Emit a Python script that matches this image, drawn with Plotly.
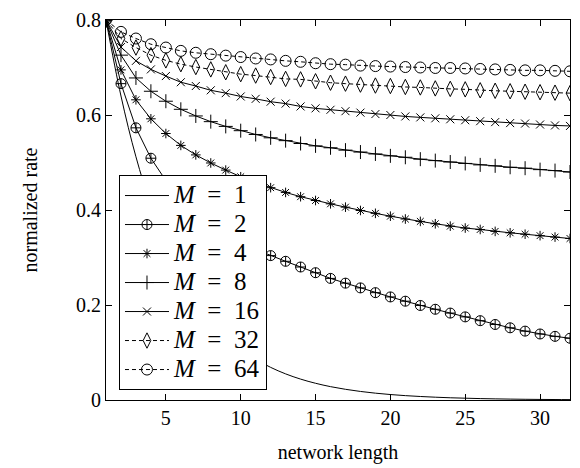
import plotly.graph_objects as go

n = list(range(1, 33))

rate_m1 = [0.8, 0.64, 0.512, 0.4096, 0.3277, 0.2621, 0.2097, 0.1678, 0.1342, 0.1074,
           0.0859, 0.0687, 0.0550, 0.0440, 0.0352, 0.0281, 0.0225, 0.0180, 0.0144, 0.0115,
           0.0092, 0.0074, 0.0059, 0.0047, 0.0038, 0.0030, 0.0024, 0.0019, 0.0015, 0.0012,
           0.0010, 0.0008]
rate_m2 = [0.8, 0.666, 0.573, 0.509, 0.462, 0.424, 0.394, 0.369, 0.349, 0.331,
           0.317, 0.304, 0.292, 0.280, 0.268, 0.256, 0.246, 0.236, 0.226, 0.217,
           0.208, 0.199, 0.191, 0.183, 0.175, 0.167, 0.159, 0.152, 0.145, 0.139,
           0.134, 0.130]
rate_m4 = [0.8, 0.695, 0.632, 0.592, 0.561, 0.536, 0.516, 0.499, 0.484, 0.470,
           0.458, 0.447, 0.437, 0.428, 0.420, 0.413, 0.406, 0.399, 0.393, 0.387,
           0.381, 0.376, 0.371, 0.366, 0.362, 0.359, 0.355, 0.352, 0.349, 0.346,
           0.343, 0.340]
rate_m8 = [0.8, 0.726, 0.678, 0.650, 0.629, 0.612, 0.598, 0.586, 0.576, 0.567,
           0.559, 0.552, 0.546, 0.540, 0.535, 0.531, 0.526, 0.522, 0.518, 0.514,
           0.511, 0.507, 0.504, 0.501, 0.498, 0.495, 0.493, 0.490, 0.488, 0.485,
           0.483, 0.480]
rate_m16 = [0.8, 0.743, 0.714, 0.696, 0.682, 0.669, 0.661, 0.652, 0.646, 0.639,
            0.634, 0.628, 0.624, 0.618, 0.614, 0.611, 0.608, 0.605, 0.602, 0.600,
            0.597, 0.595, 0.593, 0.591, 0.589, 0.587, 0.585, 0.583, 0.582, 0.580,
            0.578, 0.577]
rate_m32 = [0.8, 0.761, 0.742, 0.726, 0.715, 0.707, 0.701, 0.696, 0.690, 0.686,
            0.683, 0.680, 0.676, 0.675, 0.671, 0.668, 0.666, 0.664, 0.662, 0.661,
            0.659, 0.658, 0.656, 0.655, 0.654, 0.652, 0.651, 0.650, 0.649, 0.648,
            0.647, 0.646]
rate_m64 = [0.8, 0.775, 0.761, 0.749, 0.742, 0.735, 0.731, 0.728, 0.725, 0.722,
            0.719, 0.717, 0.714, 0.712, 0.709, 0.707, 0.706, 0.704, 0.703, 0.702,
            0.701, 0.700, 0.699, 0.699, 0.698, 0.697, 0.696, 0.695, 0.694, 0.694,
            0.693, 0.692]

m_values = ["1", "2", "4", "8", "16", "32", "64"]
labels = ['<span style="font-size:25px"><i>M</i>&nbsp;&nbsp;=&nbsp;&nbsp;' + m + "</span>"
          for m in m_values]
series = [rate_m1, rate_m2, rate_m4, rate_m8, rate_m16, rate_m32, rate_m64]
symbols = [None, "circle-cross-open", "asterisk-open", "cross-thin-open",
           "x-thin-open", "diamond-tall-open", "circle-open"]
sizes = [0, 10, 8, 10, 8, 11, 11]
dashes = ["solid", "solid", "solid", "solid", "solid", "4px,3px", "4px,3px"]

fig = go.Figure()
for lab, ys, sym, sz, dsh in zip(labels, series, symbols, sizes, dashes):
    if sym is None:
        fig.add_trace(go.Scatter(x=n, y=ys, name=lab, mode="lines",
                                 line=dict(color="black", width=1, shape="spline")))
    else:
        fig.add_trace(go.Scatter(x=n, y=ys, name=lab, mode="lines+markers",
                                 line=dict(color="black", width=1, dash=dsh),
                                 marker=dict(symbol=sym, size=sz, color="black",
                                             line=dict(color="black", width=1))))

axis_common = dict(showline=True, linecolor="black", linewidth=1, mirror="ticks",
                   ticks="inside", ticklen=6, tickcolor="black", showgrid=False,
                   zeroline=False,
                   tickfont=dict(family="Liberation Serif", size=20, color="black"))

fig.update_layout(
    width=580, height=468,
    margin=dict(l=106, r=9, t=16, b=65),
    paper_bgcolor="white", plot_bgcolor="white",
    font=dict(family="Liberation Serif", color="black"),
    xaxis=dict(range=[1, 32], tickvals=[5, 10, 15, 20, 25, 30],
               title=dict(text="network length", font=dict(size=20), standoff=16),
               **axis_common),
    yaxis=dict(range=[0, 0.8], tickvals=[0, 0.2, 0.4, 0.6, 0.8],
               ticktext=["0", "0.2", "0.4", "0.6", "0.8"],
               title=dict(text="normalized rate", font=dict(size=20), standoff=33),
               **axis_common),
    legend=dict(x=0.028, y=0.592, xanchor="left", yanchor="top",
                bgcolor="white", bordercolor="black", borderwidth=1,
                font=dict(family="Liberation Serif", size=20, color="black"),
                itemwidth=44, tracegroupgap=0),
    showlegend=True,
)

fig.write_html("out.html")
